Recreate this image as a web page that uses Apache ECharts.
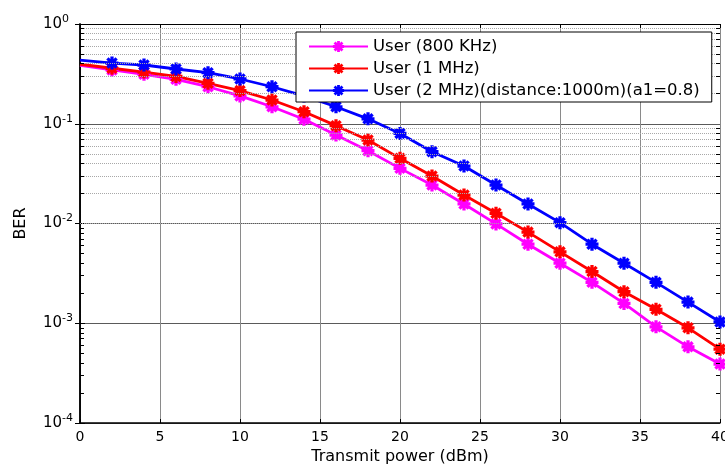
<!DOCTYPE html>
<html>
<head>
<meta charset="utf-8">
<script src="https://cdn.jsdelivr.net/npm/echarts@6/dist/echarts.min.js"></script>
<style>html,body{margin:0;padding:0;background:#fff}#c{width:725px;height:464px}</style>
</head>
<body>
<div id="c"></div>
<script>
// Data
var power = [0, 2, 4, 6, 8, 10, 12, 14, 16, 18, 20, 22, 24, 26, 28, 30, 32, 34, 36, 38, 40];
var ber800k = [0.385, 0.346, 0.313, 0.279, 0.235, 0.19, 0.148, 0.111, 0.077, 0.0537, 0.0357, 0.0243, 0.0157, 0.0099, 0.0062, 0.0040, 0.00257, 0.00158, 0.00092, 0.00058, 0.00039];
var ber1M = [0.395, 0.36, 0.33, 0.298, 0.254, 0.215, 0.173, 0.132, 0.0957, 0.0687, 0.045, 0.0299, 0.0193, 0.01265, 0.0082, 0.0052, 0.0033, 0.00207, 0.00138, 0.0009, 0.00055];
var ber2M = [0.435, 0.406, 0.388, 0.354, 0.325, 0.281, 0.235, 0.19, 0.148, 0.112, 0.08, 0.0525, 0.0377, 0.0243, 0.0157, 0.0102, 0.0062, 0.004, 0.00257, 0.00163, 0.00103];
var seriesNames = ['User (800 KHz)', 'User (1 MHz)', 'User (2 MHz)(distance:1000m)(a1=0.8)'];
var xTicks = [0, 5, 10, 15, 20, 25, 30, 35, 40];
var yDecades = [1e-4, 1e-3, 1e-2, 1e-1, 1];
var minorMult = [2, 3, 4, 5, 6, 7, 8, 9];

var FONT = 'DejaVu Sans';
var star = 'path://M-2,-8 L2,-8 L2,8 L-2,8 Z M-8,-2 L8,-2 L8,2 L-8,2 Z M-7.07,-4.24 L-4.24,-7.07 L7.07,4.24 L4.24,7.07 Z M-4.24,7.07 L-7.07,4.24 L4.24,-7.07 L7.07,-4.24 Z';

var minorVals = [];
for (var d = 0; d < yDecades.length - 1; d++) {
  for (var k = 0; k < minorMult.length; k++) minorVals.push(yDecades[d] * minorMult[k]);
}
var minorLines = minorVals.map(function (v) { return { yAxis: v }; });
var minorTicks = [];
minorVals.forEach(function (v) {
  minorTicks.push([{ coord: [xTicks[0], v] }, { coord: [xTicks[0] + 0.25, v] }]);
  minorTicks.push([{ coord: [xTicks[xTicks.length - 1] - 0.25, v] }, { coord: [xTicks[xTicks.length - 1], v] }]);
});

function mk(name, vals, color) {
  return {
    name: name, type: 'line', xAxisIndex: 0, yAxisIndex: 0,
    data: power.map(function (x, i) { return i === 0 ? { value: [x, vals[i]], symbol: 'none' } : [x, vals[i]]; }),
    symbol: star, symbolSize: 13, symbolKeepAspect: true,
    lineStyle: { color: color, width: 2.8 },
    itemStyle: { color: color },
    z: 3, animation: false
  };
}

var chart = echarts.init(document.getElementById('c'), null, { renderer: 'canvas' });
chart.setOption({
  backgroundColor: '#fff',
  animation: false,
  grid: { left: 80, top: 24, right: 5, bottom: 41, show: false, containLabel: false, outerBoundsMode: 'none' },
  legend: {
    data: seriesNames,
    orient: 'vertical', left: 296, top: 32,
    padding: [6, 12, 3, 12], itemGap: 5,
    itemWidth: 59, itemHeight: 14,
    backgroundColor: '#fff', borderColor: '#000', borderWidth: 1,
    textStyle: { fontFamily: FONT, fontSize: 16.5, color: '#000' },
    z: 10
  },
  xAxis: [{
    type: 'value', min: 0, max: 40, interval: 5, position: 'bottom',
    name: 'Transmit power (dBm)', nameLocation: 'middle', nameGap: 25,
    nameTextStyle: { fontFamily: FONT, fontSize: 16, color: '#000' },
    axisLine: { lineStyle: { color: '#000', width: 1.5 } },
    axisTick: { inside: true, length: 4, lineStyle: { color: '#000' } },
    axisLabel: { fontFamily: FONT, fontSize: 14, color: '#000', margin: 7 },
    splitLine: { show: true, lineStyle: { color: '#8a8a8a', width: 1 } }
  }, {
    type: 'value', min: 0, max: 40, interval: 5, position: 'top',
    axisLine: { lineStyle: { color: '#000', width: 1 } },
    axisTick: { inside: true, length: 4, lineStyle: { color: '#000' } },
    axisLabel: { show: false }, splitLine: { show: false }
  }],
  yAxis: [{
    type: 'log', logBase: 10, min: 1e-4, max: 1, position: 'left',
    name: 'BER', nameLocation: 'middle', nameGap: 51, nameRotate: 90,
    nameTextStyle: { fontFamily: FONT, fontSize: 16, color: '#000' },
    axisLine: { lineStyle: { color: '#000', width: 1.5 } },
    axisTick: { inside: true, length: 5, lineStyle: { color: '#000' } },
    axisLabel: {
      align: 'left', margin: 37, color: '#000',
      formatter: function (v) { return '{b|10}{s|' + Math.round(Math.log10(v)) + '}'; },
      rich: {
        b: { fontFamily: FONT, fontSize: 15, color: '#000', lineHeight: 15 },
        s: { fontFamily: FONT, fontSize: 11, color: '#000', lineHeight: 11, padding: [0, 0, 10, 0] }
      }
    },
    splitLine: { show: true, lineStyle: { color: '#5a5a5a', width: 1 } }
  }, {
    type: 'log', logBase: 10, min: 1e-4, max: 1, position: 'right',
    axisLine: { lineStyle: { color: '#000', width: 1.5 } },
    axisTick: { inside: true, length: 5, lineStyle: { color: '#000' } },
    axisLabel: { show: false }, splitLine: { show: false }
  }],
  series: [
    {
      name: 'grid-minor', type: 'line', data: [], xAxisIndex: 0, yAxisIndex: 0, z: 1,
      markLine: {
        silent: true, symbol: 'none', label: { show: false }, animation: false,
        lineStyle: { color: '#a8a8a8', type: [1, 1], width: 1 },
        data: minorLines
      }
    },
    {
      name: 'tick-minor', type: 'line', data: [], xAxisIndex: 0, yAxisIndex: 0, z: 2,
      markLine: {
        silent: true, symbol: 'none', label: { show: false }, animation: false,
        lineStyle: { color: '#000', type: 'solid', width: 1 },
        data: minorTicks
      }
    },
    mk(seriesNames[0], ber800k, '#ff00ff'),
    mk(seriesNames[1], ber1M, '#ff0000'),
    mk(seriesNames[2], ber2M, '#0000ff')
  ]
});
</script>
</body>
</html>
